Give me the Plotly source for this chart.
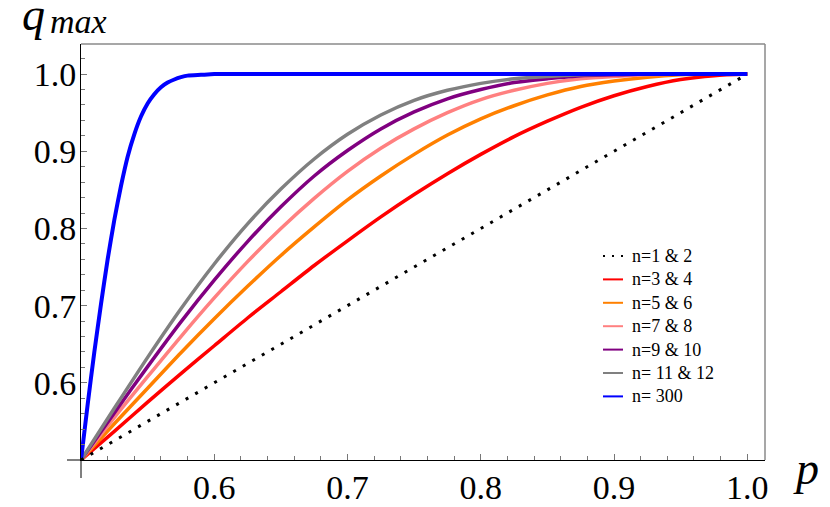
import plotly.graph_objects as go

# %% Data

p_grid = [0.5, 0.525, 0.55, 0.575, 0.6, 0.625, 0.65, 0.675, 0.7, 0.725, 0.75,
          0.775, 0.8, 0.825, 0.85, 0.875, 0.9, 0.925, 0.95, 0.975, 1.0]

q_n3 = [0.5, 0.537, 0.575, 0.612, 0.648, 0.684, 0.718, 0.752, 0.784, 0.815, 0.844,
        0.871, 0.896, 0.919, 0.939, 0.957, 0.972, 0.984, 0.993, 0.998, 1.0]
q_n5 = [0.5, 0.547, 0.593, 0.639, 0.683, 0.725, 0.765, 0.802, 0.837, 0.868, 0.896,
        0.921, 0.942, 0.959, 0.973, 0.984, 0.991, 0.996, 0.999, 1.0, 1.0]
q_n7 = [0.5, 0.555, 0.608, 0.660, 0.710, 0.757, 0.800, 0.839, 0.874, 0.904, 0.929,
        0.950, 0.967, 0.979, 0.988, 0.994, 0.997, 0.999, 1.0, 1.0, 1.0]
q_n9 = [0.5, 0.561, 0.621, 0.679, 0.733, 0.783, 0.828, 0.868, 0.901, 0.929, 0.951,
        0.968, 0.980, 0.989, 0.994, 0.998, 0.999, 1.0, 1.0, 1.0, 1.0]
q_n11 = [0.5, 0.567, 0.633, 0.696, 0.754, 0.806, 0.851, 0.890, 0.922, 0.947, 0.966,
         0.979, 0.988, 0.994, 0.997, 0.999, 1.0, 1.0, 1.0, 1.0, 1.0]

p_300 = [0.5, 0.505, 0.51, 0.515, 0.52, 0.525, 0.53, 0.535, 0.54, 0.545, 0.55,
         0.555, 0.56, 0.565, 0.57, 0.575, 0.58, 0.59, 0.6, 0.62, 0.65, 1.0]
q_300 = [0.5, 0.572, 0.640, 0.702, 0.760, 0.811, 0.855, 0.893, 0.922, 0.945, 0.962,
         0.974, 0.983, 0.989, 0.993, 0.996, 0.998, 0.999, 1.0, 1.0, 1.0, 1.0]

p_diag = [0.5, 1.0]
q_diag = [0.5, 1.0]

names = ['n=1 & 2', 'n=3 & 4', 'n=5 & 6', 'n=7 & 8', 'n=9 & 10', 'n= 11 & 12', 'n= 300']
colors = ['black', '#FF0000', '#FF8000', '#FF8080', '#800080', '#808080', '#0000FF']

xticks = [0.6, 0.7, 0.8, 0.9, 1.0]
yticks = [0.6, 0.7, 0.8, 0.9, 1.0]
tick_labels = ['0.6', '0.7', '0.8', '0.9', '1.0']

SERIF = 'Liberation Serif'
W, H = 830, 507
ML, MR, MT, MB = 81, 65, 44, 47


def px_x(x):
    """pixel column -> paper x"""
    return (x - ML) / (W - ML - MR)


def px_y(y):
    """pixel row -> paper y"""
    return (H - MB - y) / (H - MT - MB)


# %% Figure

fig = go.Figure()

curves = [(p_grid, q_n3, 1), (p_grid, q_n5, 2), (p_grid, q_n7, 3),
          (p_grid, q_n9, 4), (p_grid, q_n11, 5)]
for x, y, i in curves:
    fig.add_trace(go.Scatter(x=x, y=y, mode='lines', name=names[i], showlegend=False,
                             line=dict(color=colors[i], width=3.5, shape='spline', smoothing=0.8)))
fig.add_trace(go.Scatter(x=p_300, y=q_300, mode='lines', name=names[6], showlegend=False,
                         line=dict(color=colors[6], width=4, shape='spline', smoothing=0.6)))
fig.add_trace(go.Scatter(x=p_diag, y=q_diag, mode='lines', name=names[0], showlegend=False,
                         line=dict(color=colors[0], width=3, dash='3px,8px')))

axis_common = dict(
    showline=True, linecolor='black', linewidth=1, automargin=False,
    ticks='inside', ticklen=6, tickcolor='#777', tickwidth=1,
    showgrid=False, zeroline=False,
    tickfont=dict(family=SERIF, size=34, color='black'),
    minor=dict(ticks='inside', ticklen=4, tickcolor='#777', dtick=0.02, tick0=0.5,
               showgrid=False),
)
fig.update_xaxes(range=[0.5, 1.0133], tickvals=xticks, ticktext=tick_labels,
                 ticklabelstandoff=-3, **axis_common)
fig.update_yaxes(range=[0.5, 1.039], tickvals=yticks, ticktext=tick_labels,
                 ticklabelstandoff=-3, **axis_common)

frame = dict(type='line', xref='paper', yref='paper', layer='below',
             line=dict(color='#8a8a8a', width=1.5))
fig.add_shape(x0=0, x1=1, y0=1, y1=1, **frame)
fig.add_shape(x0=1, x1=1, y0=0, y1=1, **frame)
# axes run a little past the origin
overhang = dict(type='line', xref='paper', yref='paper', line=dict(color='black', width=1))
fig.add_shape(x0=0, x1=0, y0=px_y(478), y1=0, **overhang)
fig.add_shape(x0=px_x(67), x1=0, y0=0, y1=0, **overhang)

# legend, drawn by hand so the rows sit as tight as in the original
row0, row_gap = 256, 23.4
for i, c in enumerate(colors):
    yy = px_y(row0 + i * row_gap)
    fig.add_shape(type='line', xref='paper', yref='paper',
                  x0=px_x(603), x1=px_x(623), y0=yy, y1=yy,
                  line=dict(color=c, width=2 if i else 2.2,
                            dash='2px,7px' if i == 0 else 'solid'))
fig.add_annotation(text='<br>'.join(names), xref='paper', yref='paper',
                   x=px_x(630), y=px_y(row0 + 3 * row_gap), xanchor='left', yanchor='middle',
                   align='left', showarrow=False,
                   font=dict(family=SERIF, size=18, color='black'))

fig.add_annotation(text='<i>q</i>', xref='paper', yref='paper', x=px_x(20), y=px_y(14),
                   xanchor='left', yanchor='middle', showarrow=False,
                   font=dict(family=SERIF, size=46, color='black'))
fig.add_annotation(text='<i>max</i>', xref='paper', yref='paper', x=px_x(48), y=px_y(21),
                   xanchor='left', yanchor='middle', showarrow=False,
                   font=dict(family=SERIF, size=34, color='black'))
fig.add_annotation(text='<i>p</i>', xref='paper', yref='paper', x=px_x(791), y=px_y(468),
                   xanchor='left', yanchor='middle', showarrow=False,
                   font=dict(family=SERIF, size=46, color='black'))

fig.update_layout(
    width=W, height=H,
    margin=dict(l=ML, r=MR, t=MT, b=MB),
    plot_bgcolor='white', paper_bgcolor='white',
    showlegend=False,
)

fig.write_html("out.html", config={'displayModeBar': False},
               post_script="document.body.style.margin='0';")
